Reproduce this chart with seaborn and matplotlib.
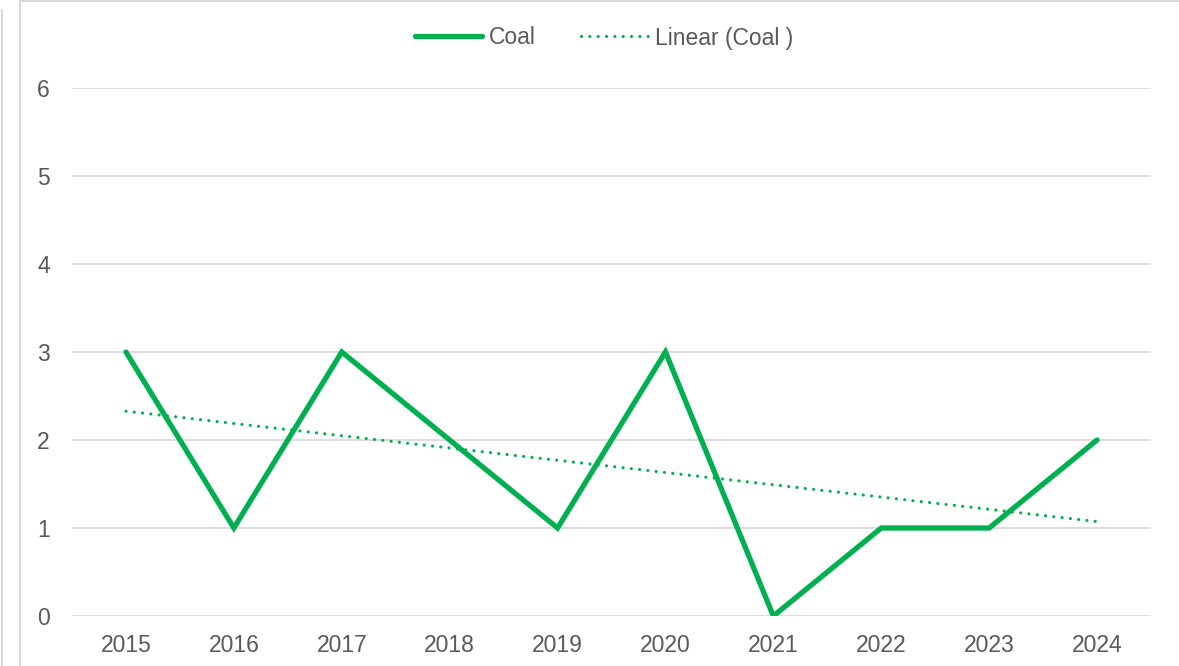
import numpy as np
import pandas as pd
import matplotlib
matplotlib.use("Agg")
import matplotlib.pyplot as plt
import seaborn as sns
from matplotlib.lines import Line2D

years = ["2015", "2016", "2017", "2018", "2019", "2020", "2021", "2022", "2023", "2024"]
coal = [3, 1, 3, 2, 1, 3, 0, 1, 1, 2]

sns.set_theme(style="white")
plt.rcParams['font.family'] = ['Liberation Sans', 'DejaVu Sans']

GREEN = "#00B050"
GRID = "#D9D9D9"
TXT = "#595959"

df = pd.DataFrame({"year": years, "x": np.arange(len(years)), "coal": coal})
slope, intercept = np.polyfit(df["x"], df["coal"], 1)
df["trend"] = intercept + slope * df["x"]

fig = plt.figure(figsize=(11.79, 6.66), dpi=100)
ax = fig.add_axes([72 / 1179, 1 - 616 / 666, (1151 - 72) / 1179, (616 - 88) / 666])

sns.lineplot(data=df, x="x", y="coal", ax=ax, color=GREEN, linewidth=3.8,
             solid_capstyle="round", solid_joinstyle="miter", zorder=3)
sns.lineplot(data=df, x="x", y="trend", ax=ax, color=GREEN, linewidth=2.3,
             zorder=2)
ax.lines[1].set_dashes([0.01, 2.6])
ax.lines[1].set_dash_capstyle("round")

ax.set_xlim(-0.5, len(years) - 0.5)
ax.set_ylim(0, 6)
ax.set_xticks(df["x"])
ax.set_xticklabels(years)
ax.set_yticks(range(0, 7))
ax.yaxis.grid(True, color=GRID, linewidth=1.3)
ax.set_axisbelow(True)
for s in ax.spines.values():
    s.set_visible(False)
ax.set_xlabel("")
ax.set_ylabel("")
ax.tick_params(axis="both", length=0, labelsize=16.5, colors=TXT)
ax.tick_params(axis="x", pad=13)
ax.tick_params(axis="y", pad=16)

handles = [Line2D([], [], color=GREEN, linewidth=3.8, solid_capstyle="round"),
           Line2D([], [], color=GREEN, linewidth=2.3, dashes=[0.01, 2.6], dash_capstyle="round")]
leg = fig.legend(handles, ["Coal", "Linear (Coal )"], loc="center",
                 bbox_to_anchor=(604 / 1179, 1 - 38 / 666), ncol=2, frameon=False,
                 fontsize=16.5, handlelength=2.9, handletextpad=0.3, columnspacing=2.0)
for t in leg.get_texts():
    t.set_color(TXT)

# chart border fragments
fig.add_artist(Line2D([20 / 1179, 20 / 1179], [0, 1], transform=fig.transFigure, color=GRID, linewidth=1.5))
fig.add_artist(Line2D([20 / 1179, 1], [1 - 0.8 / 666, 1 - 0.8 / 666], transform=fig.transFigure, color=GRID, linewidth=1.5))
fig.add_artist(Line2D([2 / 1179, 2 / 1179], [0, 1 - 10 / 666], transform=fig.transFigure, color=GRID, linewidth=1.5))

fig.savefig("out.png", dpi=100)
